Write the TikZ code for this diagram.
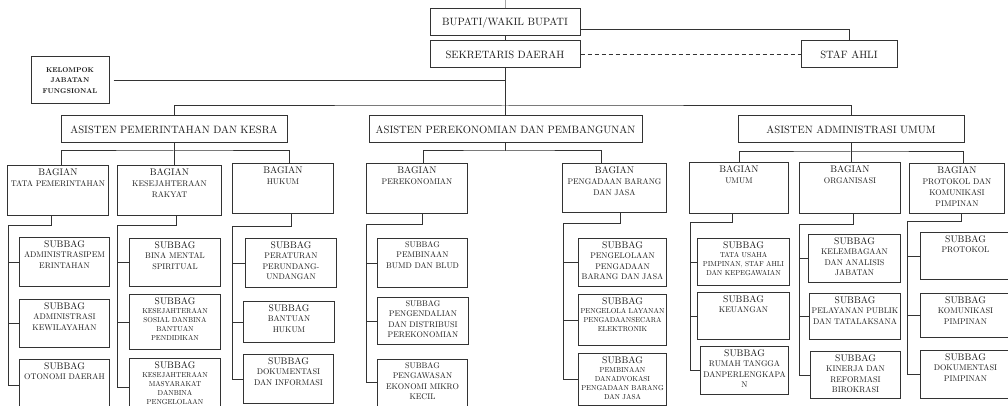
\documentclass[tikz,border=0pt]{standalone}
\font\fpim=cmr10 at 10.6pt
\font\fjdl=cmr10 at 9.6pt
\font\fisi=cmr10 at 8.2pt
\font\fkcl=cmr10 at 7.2pt
\font\fkjf=cmbx10 at 7pt
\newcommand\pim{\fpim\baselineskip=13pt\normalbaselineskip=13pt\relax}
\newcommand\jdl{\fjdl\baselineskip=11pt\normalbaselineskip=11pt\relax}
\newcommand\bag{\fisi\baselineskip=11pt\normalbaselineskip=11pt\relax}
\newcommand\isi{\fisi\baselineskip=10.5pt\normalbaselineskip=10.5pt\relax}
\newcommand\kcl{\fkcl\baselineskip=9pt\normalbaselineskip=9pt\relax}
\newcommand\kjf{\fkjf\baselineskip=10.5pt\normalbaselineskip=10.5pt\relax}

\begin{document}
\begin{tikzpicture}[
		x=1pt, y=-1pt,
		garis/.style={draw=black!80, line width=1pt},
		kotak/.style={draw=black!80, line width=1pt, fill=white, text=black!90, inner sep=0pt},
		pimpinan/.style 2 args={kotak, minimum width=#1, minimum height=#2, align=center, font=\pim},
		unit/.style 2 args={kotak, anchor=north west,
				execute at begin node={\begin{minipage}[c][#2][t]{#1}\vspace*{3pt}\centering},
				execute at end node={\end{minipage}}},
		bagian/.style 2 args={unit={#1}{#2}, font=\bag},
		subbag/.style 2 args={unit={#1}{#2}, font=\isi}
	]
	\useasboundingbox (0,0) rectangle (1008,406);
	\clip (0,0) rectangle (1008,406);

	% pimpinan dan asisten
	\node[pimpinan={150pt}{27pt}] (bupati) at (505,22.5) {BUPATI/WAKIL BUPATI};
	\node[pimpinan={150pt}{27pt}] (sekda) at (505,54.5) {SEKRETARIS DAERAH};
	\node[pimpinan={96pt}{27pt}] (staf) at (849,54.5) {STAF AHLI};
	\node[kotak, minimum width=78pt, minimum height=47pt, align=center, font=\kjf] (kjf) at (70,80.5) {KELOMPOK\\JABATAN\\FUNGSIONAL};
	\node[pimpinan={226pt}{27pt}] (asa) at (174,129.5) {ASISTEN PEMERINTAHAN DAN KESRA};
	\node[pimpinan={273pt}{27pt}] (asb) at (505.5,129.5) {ASISTEN PEREKONOMIAN DAN PEMBANGUNAN};
	\node[pimpinan={226pt}{27pt}] (asc) at (851,129.5) {ASISTEN ADMINISTRASI UMUM};

	% bagian
	\node[bagian={101pt}{50pt}] (tata) at (7,165) {{\jdl BAGIAN}\\TATA PEMERINTAHAN};
	\node[bagian={104pt}{50pt}] (kesra) at (117,165) {{\jdl BAGIAN}\\KESEJAHTERAAN\\RAKYAT};
	\node[bagian={101pt}{50pt}] (hukum) at (232,163) {{\jdl BAGIAN}\\HUKUM};
	\node[bagian={101pt}{50pt}] (perek) at (366,163) {{\jdl BAGIAN}\\PEREKONOMIAN};
	\node[bagian={104pt}{49pt}] (pbj) at (562,163) {{\jdl BAGIAN}\\PENGADAAN BARANG\\DAN JASA};
	\node[bagian={99pt}{51pt}] (umum) at (689,162) {{\jdl BAGIAN}\\UMUM};
	\node[bagian={101pt}{51pt}] (orgn) at (799,162) {{\jdl BAGIAN}\\ORGANISASI};
	\node[bagian={95pt}{50pt}] (prot) at (909,163) {{\jdl BAGIAN}\\PROTOKOL DAN\\KOMUNIKASI\\PIMPINAN};

	% subbagian
	\node[subbag={90pt}{49pt}] (sa) at (19,237) {{\jdl SUBBAG}\\ADMINISTRASIPEM\\ERINTAHAN};
	\node[subbag={90pt}{48pt}] (sb) at (19,299) {{\jdl SUBBAG}\\ADMINISTRASI\\KEWILAYAHAN};
	\node[subbag={90pt}{52pt}] (sc) at (19,359) {{\jdl SUBBAG}\\OTONOMI DAERAH};
	\node[subbag={91pt}{48pt}] (sd) at (129,238) {{\jdl SUBBAG}\\BINA MENTAL\\SPIRITUAL};
	\node[subbag={91pt}{55pt}, font=\kcl] (se) at (129,294) {{\jdl SUBBAG}\\KESEJAHTERAAN\\SOSIAL DANBINA\\BANTUAN\\PENDIDIKAN};
	\node[subbag={91pt}{58pt}, font=\kcl] (sf) at (129,358) {{\jdl SUBBAG}\\KESEJAHTERAAN\\MASYARAKAT\\DANBINA\\PENGELOLAAN};
	\node[subbag={91pt}{49pt}] (sg) at (245,238) {{\jdl SUBBAG}\\PERATURAN\\PERUNDANG-\\UNDANGAN};
	\node[subbag={91pt}{41pt}] (sh) at (243,301) {{\jdl SUBBAG}\\BANTUAN\\HUKUM};
	\node[subbag={90pt}{49pt}] (si) at (243,354) {{\jdl SUBBAG}\\DOKUMENTASI\\DAN INFORMASI};
	\node[subbag={90pt}{49pt}] (sj) at (377,238) {SUBBAG\\PEMBINAAN\\BUMD DAN BLUD};
	\node[subbag={91pt}{47pt}] (sk) at (377,297) {SUBBAG\\PENGENDALIAN\\DAN DISTRIBUSI\\PEREKONOMIAN};
	\node[subbag={90pt}{56pt}] (sl) at (377,359) {SUBBAG\\PENGAWASAN\\EKONOMI MIKRO\\KECIL};
	\node[subbag={88pt}{48pt}] (sm) at (578,238) {{\jdl SUBBAG}\\PENGELOLAAN\\PENGADAAN\\BARANG DAN JASA};
	\node[subbag={88pt}{51pt}, font=\kcl] (sn) at (578,294) {{\jdl SUBBAG}\\PENGELOLA LAYANAN\\PENGADAANSECARA\\ELEKTRONIK};
	\node[subbag={88pt}{52pt}, font=\kcl] (so) at (578,353) {{\jdl SUBBAG}\\PEMBINAAN\\DANADVOKASI\\PENGADAAN BARANG\\DAN JASA};
	\node[subbag={92pt}{47pt}, font=\kcl] (sp) at (697,238) {{\jdl SUBBAG}\\TATA USAHA\\PIMPINAN, STAF AHLI\\DAN KEPEGAWAIAN};
	\node[subbag={92pt}{47pt}] (sq) at (697,292) {{\jdl SUBBAG}\\KEUANGAN};
	\node[subbag={88pt}{48pt}] (sr) at (700,346) {{\jdl SUBBAG}\\RUMAH TANGGA\\DANPERLENGKAPA\\N};
	\node[subbag={92pt}{48pt}] (ss) at (808,234) {{\jdl SUBBAG}\\KELEMBAGAAN\\DAN ANALISIS\\JABATAN};
	\node[subbag={91pt}{46pt}] (st) at (809,293) {{\jdl SUBBAG}\\PELAYANAN PUBLIK\\DAN TATALAKSANA};
	\node[subbag={90pt}{47pt}] (su) at (810,351) {{\jdl SUBBAG}\\KINERJA DAN\\REFORMASI\\BIROKRASI};
	\node[subbag={90pt}{47pt}] (sv) at (920,232) {{\jdl SUBBAG}\\PROTOKOL};
	\node[subbag={90pt}{44pt}] (sw) at (920,293) {{\jdl SUBBAG}\\KOMUNIKASI\\PIMPINAN};
	\node[subbag={90pt}{48pt}] (sx) at (920,350) {{\jdl SUBBAG}\\DOKUMENTASI\\PIMPINAN};

	% garis atas
	\coordinate (puncak) at (505,0);
	\coordinate (busA) at (505,106);
	\coordinate (busB1) at (174,151);
	\coordinate (busB2) at (505.5,151);
	\coordinate (busB3) at (851,152);
	\draw[garis, draw=black!35] (bupati.north) -- (puncak);
	\draw[garis] (bupati) -- (sekda);
	\draw[garis] ([yshift=-7.5pt]bupati.east) -| (staf.north);
	\draw[garis, dash pattern=on 4pt off 3pt] (sekda.east) -- (staf.west);
	\draw[garis] ([xshift=4pt]kjf.east) -- (kjf.east -| sekda.south);
	\draw[garis] (sekda.south) -- (sekda.south |- asb.north);
	\draw[garis] (asa.north) |- (busA) -| (asc.north);
	\draw[garis] (asa.south) -- (asa.south |- kesra.north);
	\draw[garis] ([xshift=3.5pt]tata.north) |- (busB1) -| ([xshift=6.5pt]hukum.north);
	\draw[garis] (asb.south) -- (busB2);
	\draw[garis] ([xshift=6.5pt]perek.north) |- (busB2) -| ([xshift=-13pt]pbj.north);
	\draw[garis] (asc.south) -- (asc.south |- orgn.north);
	\draw[garis] (umum.north) |- (busB3) -| ([xshift=6.5pt]prot.north);

	% garis bagian ke subbagian
	\coordinate (t1) at (8,225);
	\coordinate (t2) at (117,225);
	\coordinate (t3) at (232,226);
	\coordinate (t4) at (366,224);
	\coordinate (t5) at (563,223);
	\coordinate (t6) at (690,222);
	\coordinate (t7) at (799,224);
	\coordinate (t8) at (907,221);
	\draw[garis] ([xshift=-6.5pt]tata.south) |- (t1) |- (sc.west);
	\draw[garis] ([xshift=7pt]kesra.south) |- (t2) |- (sf.west);
	\draw[garis] ([xshift=8.5pt]hukum.south) |- (t3) |- (si.west);
	\draw[garis] ([xshift=5.5pt]perek.south) |- (t4) |- ([yshift=5pt]sl.west);
	\draw[garis] ([xshift=6pt]pbj.south) |- (t5) |- (so.west);
	\draw[garis] ([xshift=-6.5pt]umum.south) |- (t6) |- (sr.west);
	\draw[garis] ([xshift=3.5pt]orgn.south) |- (t7) |- (su.west);
	\draw[garis] ([xshift=4.5pt]prot.south) |- (t8) |- (sx.west);
	\foreach \t/\s in {t1/sa,t1/sb,t2/sd,t2/se,t3/sg,t3/sh,t4/sj,t4/sk,t5/sm,t5/sn,t6/sp,t6/sq,t7/ss,t7/st,t8/sv,t8/sw}
		\draw[garis] (\t) |- (\s.west);
\end{tikzpicture}
\end{document}
